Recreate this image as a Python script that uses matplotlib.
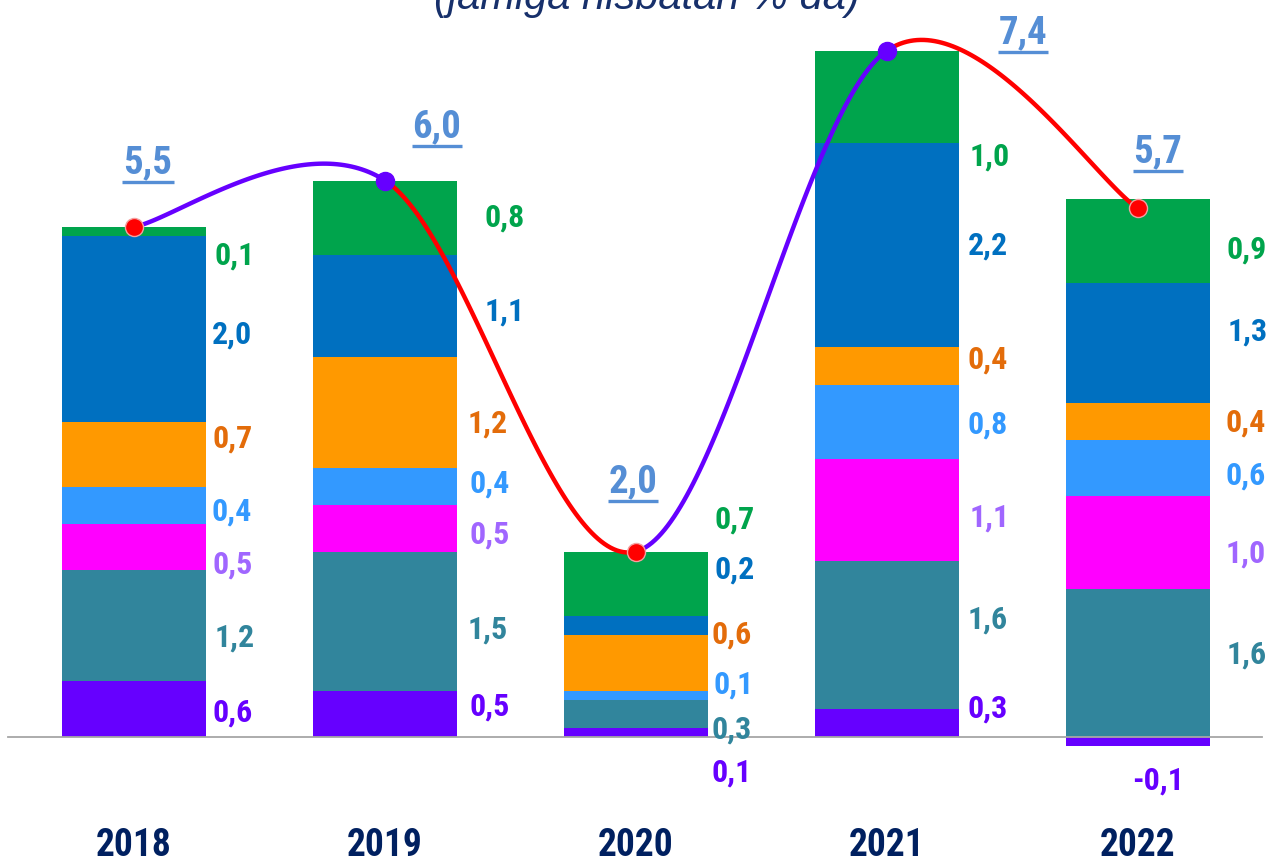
import matplotlib
matplotlib.use("Agg")
import matplotlib.pyplot as plt
import numpy as np
from matplotlib import font_manager as fm

# ---------------- data ----------------
years = ["2018", "2019", "2020", "2021", "2022"]
purple_vals = [0.6, 0.5, 0.1, 0.3, -0.1]
teal_vals = [1.2, 1.5, 0.3, 1.6, 1.6]
magenta_vals = [0.5, 0.5, 0.0, 1.1, 1.0]
lightblue_vals = [0.4, 0.4, 0.1, 0.8, 0.6]
orange_vals = [0.7, 1.2, 0.6, 0.4, 0.4]
blue_vals = [2.0, 1.1, 0.2, 2.2, 1.3]
green_vals = [0.1, 0.8, 0.7, 1.0, 0.9]
totals = [5.5, 6.0, 2.0, 7.4, 5.7]
title = "(jamiga nisbatan % da)"

# ---------------- fonts ----------------
names = {f.name for f in fm.fontManager.ttflist}
NARROW = dict(family="DejaVu Sans", weight="bold")
for nm in ["Roboto Condensed", "Liberation Sans Narrow", "Archivo Narrow",
           "Barlow Condensed"]:
    if nm in names:
        NARROW = dict(family=nm, weight="bold")
        break

# ---------------- styling ----------------
series = [purple_vals, teal_vals, magenta_vals, lightblue_vals,
          orange_vals, blue_vals, green_vals]
bar_colors = ["#6600FF", "#31859C", "#FF00FF", "#3399FF",
              "#FF9900", "#0070C0", "#00A44C"]
label_colors = ["#6600FF", "#31859C", "#A066FF", "#3399FF",
                "#E36C0A", "#0070C0", "#00A44C"]
# label vertical offsets (pixels, downward) relative to segment middle
label_dy = [
    [3, -7, 40, -15, 0],
    [12, 8, 16, -15, -8],
    [18, 6, 0, 8, 11],
    [6, -3, -11, 3, 7],
    [-16, 11, -28, -6, 1],
    [6, 6, -56, 0, -11],
    [24, 0, -64, 59, 9],
]
label_dx = [
    [7, 13, 4, 9, 0],
    [9, 11, 4, 9, 17],
    [7, 13, 4, 11, 16],
    [6, 13, 6, 9, 16],
    [7, 11, 4, 9, 16],
    [6, 28, 7, 9, 18],
    [9, 28, 7, 11, 17],
]
W, H, DPI = 12.74, 8.65, 100
fig = plt.figure(figsize=(W, H), dpi=DPI)
ax = fig.add_axes([0, 0, 1, 1])
px_per_x = 251.0
x0_px = 134.0
y0_px_from_bottom = 865 - 737
px_per_y = 92.75
ax.set_xlim(-x0_px / px_per_x, (1274 - x0_px) / px_per_x)
ax.set_ylim(-y0_px_from_bottom / px_per_y, (865 - y0_px_from_bottom) / px_per_y)
ax.axis("off")

x = np.arange(len(years))
bw = 144 / px_per_x
pos_base = np.zeros(len(years))
neg_base = np.zeros(len(years))
for si, (vals, col) in enumerate(zip(series, bar_colors)):
    vals = np.array(vals, dtype=float)
    bottoms = np.where(vals >= 0, pos_base, neg_base)
    ax.bar(x, vals, width=bw, bottom=bottoms, color=col, edgecolor="none", zorder=2)
    for i, v in enumerate(vals):
        if v == 0:
            continue
        mid = bottoms[i] + v / 2
        txt = f"{v:.1f}".replace(".", ",")
        if v < 0:
            ax.annotate(txt, (x[i], bottoms[i] + v), xytext=(20, -34),
                        textcoords="offset pixels", ha="center", va="center",
                        color=label_colors[si], fontsize=23, zorder=5, **NARROW)
        else:
            ax.annotate(txt, (x[i] + bw / 2, mid), xytext=(label_dx[si][i], -label_dy[si][i]),
                        textcoords="offset pixels", ha="left", va="center",
                        color=label_colors[si], fontsize=23, zorder=5, **NARROW)
    pos_base = pos_base + np.where(vals >= 0, vals, 0)
    neg_base = neg_base + np.where(vals < 0, vals, 0)

# baseline
ax.plot([(8 - x0_px) / px_per_x, (1262 - x0_px) / px_per_x], [0, 0],
        color="#A6A6A6", lw=1.3, zorder=3)

# smooth line (Bezier like Excel smoothing)
P = np.column_stack([x, totals]).astype(float)
n = len(P)
def tangent(i):
    if i == 0:
        return (P[1] - P[0]) / 6
    if i == n - 1:
        return (P[-1] - P[-2]) / 6
    return (P[i + 1] - P[i - 1]) / 6
t = np.linspace(0, 1, 80)[:, None]
for i in range(n - 1):
    a = P[i]; d = P[i + 1]
    b = a + tangent(i); c = d - tangent(i + 1)
    curve = ((1 - t) ** 3) * a + 3 * ((1 - t) ** 2) * t * b + 3 * (1 - t) * t ** 2 * c + t ** 3 * d
    col = "#6600FF" if totals[i + 1] > totals[i] else "#FF0000"
    ax.plot(curve[:, 0], curve[:, 1], color=col, lw=3.2, zorder=6, solid_capstyle="round")
marker_cols = ["#FF0000", "#6600FF", "#FF0000", "#6600FF", "#FF0000"]
for i in range(n):
    ax.plot(x[i], totals[i], "o", ms=13, color=marker_cols[i],
            mec="#F4A0A0" if marker_cols[i] == "#FF0000" else marker_cols[i],
            mew=1.0, zorder=7)

# totals labels (underlined)
tot_dx = [14, 52, -3, 136, 20]     # pixels
tot_dy = [64, 54, 70, 18, 57]      # pixels above marker (text center)
fig.canvas.draw()
renderer = fig.canvas.get_renderer()
for i in range(n):
    tx = ax.annotate(f"{totals[i]:.1f}".replace(".", ","), (x[i], totals[i]),
                     xytext=(tot_dx[i], tot_dy[i]), textcoords="offset pixels",
                     ha="center", va="center", color="#558ED5", fontsize=28,
                     zorder=8, **NARROW)
    bb = tx.get_window_extent(renderer=renderer)
    inv = ax.transData.inverted()
    (xa, ya), (xb, yb) = inv.transform([(bb.x0 - 1, bb.y0 - 1), (bb.x1 + 1, bb.y0 - 1)])
    ax.plot([xa, xb], [ya, ya], color="#558ED5", lw=2.4, zorder=8, solid_capstyle="butt")

# year labels
for i, yr in enumerate(years):
    ax.annotate(yr, (x[i], 0), xytext=(0, -108), textcoords="offset pixels",
                ha="center", va="center", color="#002060", fontsize=27, **NARROW)

# title (partially cut at top, as in reference)
fig.text(0.508, 1 - 9 / 865, title, ha="center", va="baseline", fontsize=30,
         style="italic", color="#17306B", family="Liberation Sans")

fig.savefig("out.png", dpi=DPI)
